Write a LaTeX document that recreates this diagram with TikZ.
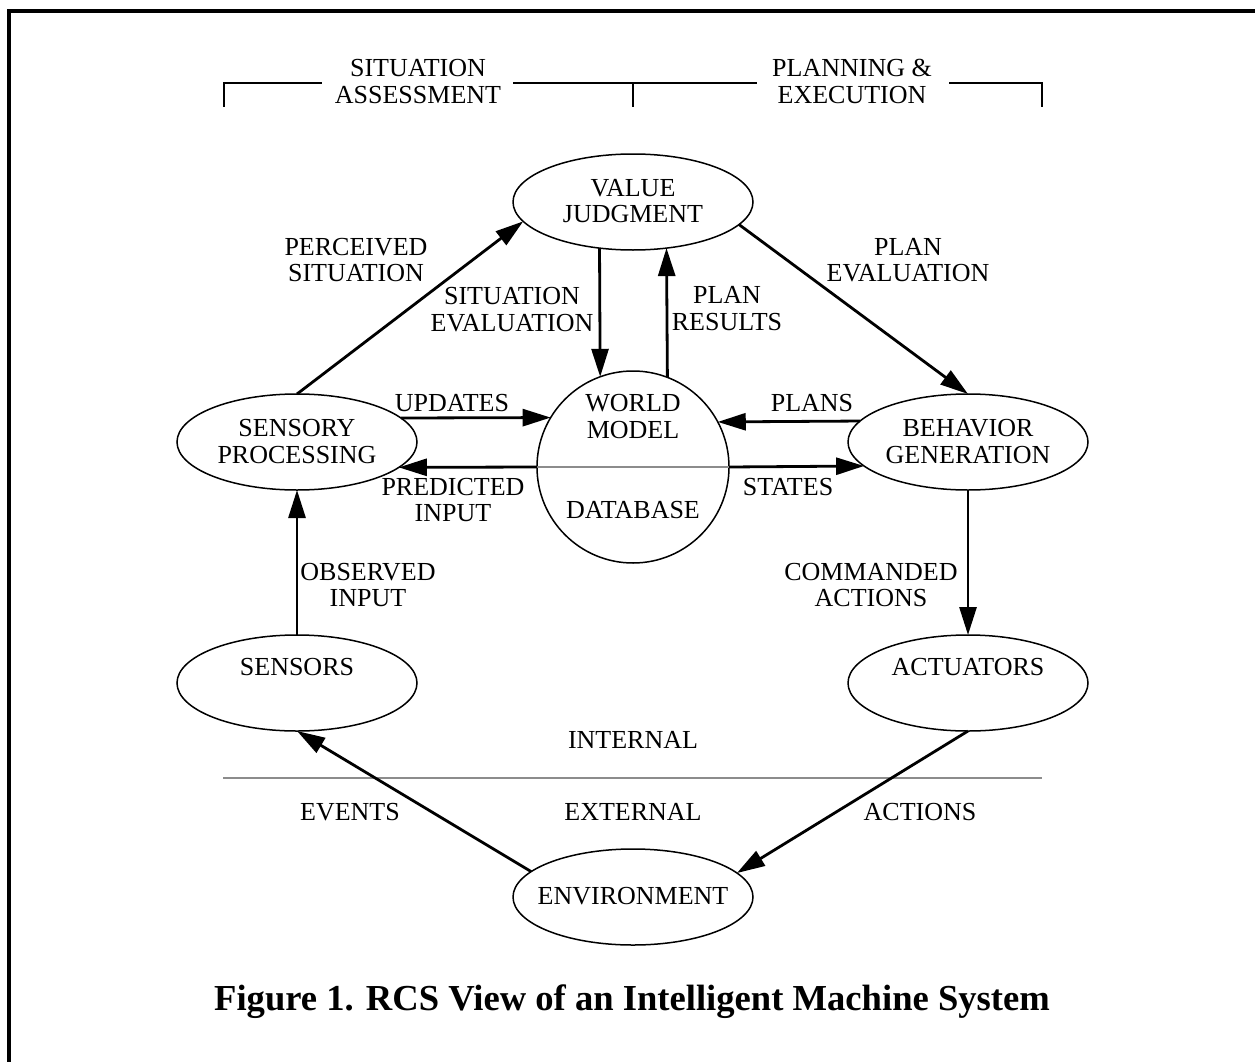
\documentclass[tikz,border=0pt]{standalone}
\usepackage{fontspec}
\setmainfont{Liberation Serif}
\usetikzlibrary{arrows.meta,shapes.geometric}
\definecolor{lgray}{RGB}{140,140,140}
\tikzset{
  ell/.style={draw, ellipse, minimum width=240pt, minimum height=96pt, inner sep=0pt, outer sep=0pt, line width=1.5pt},
  wmcirc/.style={draw, circle, minimum size=192pt, inner sep=0pt, outer sep=0pt, line width=1.5pt},
  txt/.style={font=\fontsize{26}{26.5}\selectfont, align=center, inner sep=0pt},
  arr/.style={line width=2.8pt, -{Triangle[length=28pt,width=17pt]}},
  grayline/.style={draw=lgray, line width=1.6pt},
  bracket/.style={line width=1.6pt},
}
\begin{document}
\begin{tikzpicture}[x=1pt,y=-1pt]
\useasboundingbox (0,0) rectangle (1255,1062);
% frame
\draw[line width=3.5pt] (9,1070) -- (9,11) -- (1262,11);
% brackets
\draw[bracket] (224,107) -- (224,83) -- (322,83);
\draw[bracket] (513,83) -- (757,83);
\draw[bracket] (633,83) -- (633,107);
\draw[bracket] (949,83) -- (1042,83) -- (1042,107);
\node[txt] (sa) at (418,81.5) {SITUATION\\ASSESSMENT};
\node[txt] (pe) at (852,81.5) {PLANNING \&\\EXECUTION};
% nodes
\node[ell] (vj) at (633,202) {};
\node[ell] (sp) at (297,442) {};
\node[ell] (bg) at (968,442) {};
\node[wmcirc] (wm) at (633,467) {};
\node[ell] (se) at (297,683) {};
\node[ell] (ac) at (968,683) {};
\node[ell] (en) at (633,897) {};
\node[txt] (vjt) at (633,201) {VALUE\\JUDGMENT};
\node[txt] (spt) at (297,441.5) {SENSORY\\PROCESSING};
\node[txt] (bgt) at (968,441.5) {BEHAVIOR\\GENERATION};
\node[txt] (wmt) at (633,416.5) {WORLD\\MODEL};
\node[txt] (dbt) at (633,510) {DATABASE};
\node[txt] (set) at (297,667) {SENSORS};
\node[txt] (act) at (968,667) {ACTUATORS};
\node[txt] (ent) at (633,896) {ENVIRONMENT};
% gray lines
\draw[grayline] (wm.west) -- (wm.east);
\coordinate (il) at (223,778);
\coordinate (ir) at (1042,778);
\draw[grayline] (il) -- (ir);
% connectors
\draw[arr] (sp.north) -- (vj.190);
\draw[arr] (vj.234.3) -- (wm.110.1);
\draw[arr] (wm.69.3) -- (vj.306.5);
\draw[arr] (vj.348.8) -- (bg.north);
\draw[arr] (sp.13) -- (wm.149.3);
\draw[arr] (bg.169) -- (wm.28.6);
\draw[arr] (wm.west) -- (sp.346.3);
\draw[arr] (wm.east) -- (bg.193.7);
\draw[arr] (se.north) -- (sp.south);
\draw[arr] (bg.south) -- (ac.north);
\draw[arr] (en.166.6) -- (se.south);
\draw[arr] (ac.south) -- (en.13.4);
% labels
\node[txt] (l1) at (356,260) {PERCEIVED\\SITUATION};
\node[txt] (l2) at (512,309.5) {SITUATION\\EVALUATION};
\node[txt] (l3) at (727,308.5) {PLAN\\RESULTS};
\node[txt] (l4) at (908,260) {PLAN\\EVALUATION};
\node[txt] (l5) at (452,403) {UPDATES};
\node[txt] (l6) at (812,403) {PLANS};
\node[txt] (l7) at (453,500) {PREDICTED\\INPUT};
\node[txt] (l8) at (788,487) {STATES};
\node[txt] (l9) at (368,585) {OBSERVED\\INPUT};
\node[txt] (l10) at (871,585) {COMMANDED\\ACTIONS};
\node[txt] (l11) at (633,740) {INTERNAL};
\node[txt] (l12) at (633,812) {EXTERNAL};
\node[txt] (l13) at (350,812) {EVENTS};
\node[txt] (l14) at (920,812) {ACTIONS};
% caption
\node[font=\fontsize{36.6}{40}\selectfont\bfseries, anchor=base, inner sep=0pt] (cap) at (632,1010) {Figure 1. RCS View of an Intelligent Machine System};
\end{tikzpicture}
\end{document}
